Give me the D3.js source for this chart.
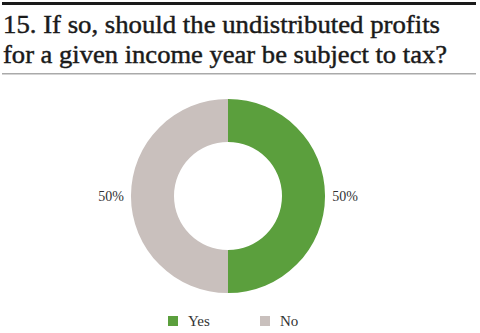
<!DOCTYPE html>
<html><head><meta charset="utf-8">
<script src="https://cdn.jsdelivr.net/npm/d3@7"></script>
<style>body{margin:0;background:#fff}svg{display:block}text{font-family:'Liberation Serif','Times New Roman',serif}</style>
</head><body><svg id="c" width="480" height="333"></svg>
<script>
const titleLines = ["15. If so, should the undistributed profits", "for a given income year be subject to tax?"];
const categories = ["Yes", "No"];
const values = [50, 50];
const colors = ["#5b9f3d", "#c9c0bd"];

const svg = d3.select("#c");
svg.append("rect").attr("x",2).attr("y",2).attr("width",474).attr("height",3).attr("fill","#1a1a1a");
svg.append("rect").attr("x",2).attr("y",73).attr("width",474).attr("height",1.5).attr("fill","#aaa");
const titleLen = [437, 444];
svg.selectAll("text.t").data(titleLines).join("text").attr("class","t")
  .attr("x",3).attr("y",(d,i)=>33+i*30)
  .attr("font-size",26).attr("font-weight",400)
  .attr("textLength",(d,i)=>titleLen[i]).attr("lengthAdjust","spacingAndGlyphs")
  .attr("stroke","#1a1a1a").attr("stroke-width",0.45)
  .attr("fill","#1a1a1a").text(d=>d);

const cx=228, cy=196, R=97, r=54;
const pie = d3.pie().sort(null)(values);
const arc = d3.arc().innerRadius(r).outerRadius(R);
const g = svg.append("g").attr("transform",`translate(${cx},${cy})`);
g.selectAll("path").data(pie).join("path").attr("d",arc).attr("fill",(d,i)=>colors[i]);
g.selectAll("text").data(pie).join("text")
  .attr("x",d=>{const a=(d.startAngle+d.endAngle)/2; return Math.sin(a)*(R+20);})
  .attr("y",d=>{const a=(d.startAngle+d.endAngle)/2; return -Math.cos(a)*(R+20);})
  .attr("text-anchor","middle").attr("dy","0.35em")
  .attr("font-size",14).attr("fill","#333")
  .text(d=>d.data+"%");

const leg = svg.append("g");
const lx = d3.scaleOrdinal().domain(categories).range([168,260]);
leg.selectAll("rect").data(categories).join("rect")
  .attr("x",d=>lx(d)).attr("y",316).attr("width",10).attr("height",10).attr("fill",(d,i)=>colors[i]);
leg.selectAll("text").data(categories).join("text")
  .attr("x",d=>lx(d)+20).attr("y",326)
  .attr("font-size",15).attr("fill","#333").text(d=>d);
</script></body></html>
